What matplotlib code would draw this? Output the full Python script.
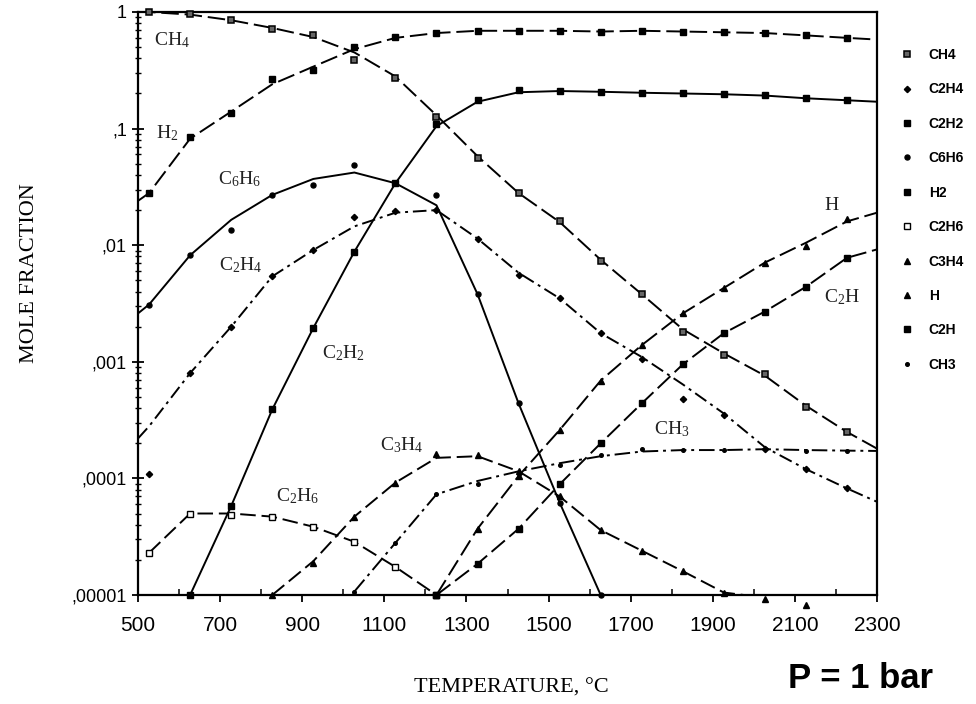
import numpy as np
import matplotlib
matplotlib.use("Agg")
import matplotlib.pyplot as plt
from matplotlib.lines import Line2D
from matplotlib.ticker import FixedLocator, LogLocator, NullFormatter

plt.rcParams['font.family'] = ['Liberation Sans', 'DejaVu Sans']
plt.rcParams['mathtext.fontset'] = 'custom'
plt.rcParams['mathtext.default'] = 'regular'
plt.rcParams['mathtext.rm'] = 'Liberation Serif'

nan = np.nan

# ---- data: marker temperatures (deg C) and mole fractions ----
T_pts = [527, 627, 727, 827, 927, 1027, 1127, 1227, 1327, 1427, 1527,
         1627, 1727, 1827, 1927, 2027, 2127, 2227]

ch4 = [1.0, 0.96, 0.85, 0.71, 0.63, 0.39, 0.27, 0.125, 0.056, 0.028, 0.016,
       0.0073, 0.0038, 0.0018, 0.00115, 0.00079, 0.00041, 0.00025]
c2h4 = [1.1e-4, 8.0e-4, 0.0020, 0.0054, 0.0091, 0.0176, 0.0198, 0.020, 0.0114,
        0.0056, 0.0035, 0.00176, 0.00105, 4.8e-4, 3.5e-4, 1.8e-4, 1.2e-4, 8.2e-5]
c2h2 = [nan, 1.0e-5, 5.8e-5, 3.9e-4, 0.00195, 0.0088, 0.034, 0.11, 0.175,
        0.213, 0.209, 0.205, 0.20, 0.20, 0.197, 0.193, 0.182, 0.175]
c6h6 = [0.0031, 0.0083, 0.0136, 0.027, 0.033, 0.049, 0.034, 0.027, 0.0038,
        4.4e-4, 6.2e-5, 1.0e-5, nan, nan, nan, nan, nan, nan]
h2 = [0.028, 0.084, 0.135, 0.265, 0.32, 0.50, 0.61, 0.66, 0.69, 0.69, 0.69,
      0.68, 0.69, 0.68, 0.67, 0.66, 0.63, 0.60]
c2h6 = [2.3e-5, 5.0e-5, 4.9e-5, 4.7e-5, 3.85e-5, 2.86e-5, 1.74e-5, 1.0e-5,
        nan, nan, nan, nan, nan, nan, nan, nan, nan, nan]
c3h4 = [nan, nan, nan, 1.0e-5, 1.88e-5, 4.7e-5, 9.2e-5, 1.63e-4, 1.6e-4,
        1.15e-4, 7.0e-5, 3.6e-5, 2.4e-5, 1.6e-5, 1.05e-5, 9.2e-6, 8.2e-6, nan]
h = [nan, nan, nan, nan, nan, nan, nan, 1.0e-5, 3.7e-5, 1.05e-4, 2.6e-4,
     6.9e-4, 0.00139, 0.0026, 0.0043, 0.0071, 0.0099, 0.0169]
c2h = [nan, nan, nan, nan, nan, nan, nan, 1.0e-5, 1.85e-5, 3.7e-5, 8.9e-5,
       2.0e-4, 4.4e-4, 9.5e-4, 0.00176, 0.0027, 0.0044, 0.0078]
ch3 = [nan, nan, nan, nan, nan, 1.07e-5, 2.8e-5, 7.3e-5, 8.9e-5, 1.1e-4,
       1.3e-4, 1.6e-4, 1.77e-4, 1.75e-4, 1.75e-4, 1.8e-4, 1.73e-4, 1.73e-4]

# ---- fitted curves (plot edges included) ----
T_curve = [500, 527, 627, 727, 827, 927, 1027, 1127, 1227, 1327, 1427, 1527,
           1627, 1727, 1827, 1927, 2027, 2127, 2227, 2300]

ch4_curve = [1.0, 1.0, 0.95, 0.85, 0.73, 0.61, 0.45, 0.28, 0.13, 0.058, 0.028,
             0.0158, 0.0075, 0.0038, 0.0019, 0.00118, 0.00076, 0.00042, 0.00025, 0.00018]
c2h4_curve = [2.2e-4, 2.8e-4, 8.0e-4, 0.0020, 0.0054, 0.0091, 0.0145, 0.019,
              0.020, 0.0114, 0.0058, 0.0035, 0.00176, 0.0011, 6.4e-4, 3.6e-4,
              1.85e-4, 1.2e-4, 8.2e-5, 6.3e-5]
c2h2_curve = [nan, nan, 1.0e-5, 5.8e-5, 3.9e-4, 0.00195, 0.0088, 0.034, 0.105,
              0.17, 0.205, 0.21, 0.207, 0.203, 0.20, 0.197, 0.192, 0.182, 0.175, 0.17]
c6h6_curve = [0.0026, 0.0031, 0.0082, 0.0165, 0.027, 0.037, 0.042, 0.034,
              0.022, 0.0038, 4.4e-4, 6.2e-5, 1.0e-5, nan, nan, nan, nan, nan, nan, nan]
h2_curve = [0.024, 0.028, 0.082, 0.14, 0.24, 0.34, 0.48, 0.60, 0.66, 0.69,
            0.69, 0.69, 0.68, 0.69, 0.68, 0.67, 0.66, 0.63, 0.60, 0.58]
c2h6_curve = [nan, 2.3e-5, 5.0e-5, 5.0e-5, 4.7e-5, 3.85e-5, 2.86e-5, 1.74e-5,
              1.0e-5, nan, nan, nan, nan, nan, nan, nan, nan, nan, nan, nan]
c3h4_curve = [nan, nan, nan, nan, 1.0e-5, 1.95e-5, 4.7e-5, 9.2e-5, 1.5e-4,
              1.55e-4, 1.15e-4, 7.0e-5, 3.6e-5, 2.4e-5, 1.6e-5, 1.05e-5, 9.5e-6,
              nan, nan, nan]
h_curve = [nan, nan, nan, nan, nan, nan, nan, nan, 1.0e-5, 3.7e-5, 1.05e-4,
           2.6e-4, 6.9e-4, 0.00139, 0.0026, 0.0043, 0.0071, 0.0105, 0.016, 0.019]
c2h_curve = [nan, nan, nan, nan, nan, nan, nan, nan, 1.0e-5, 1.85e-5, 3.7e-5,
             8.9e-5, 2.0e-4, 4.4e-4, 9.5e-4, 0.00176, 0.0027, 0.0044, 0.0078, 0.0092]
ch3_curve = [nan, nan, nan, nan, nan, nan, 1.07e-5, 2.8e-5, 7.3e-5, 9.5e-5,
             1.15e-4, 1.35e-4, 1.55e-4, 1.7e-4, 1.75e-4, 1.75e-4, 1.78e-4,
             1.75e-4, 1.73e-4, 1.72e-4]

species = ["CH4", "C2H4", "C2H2", "C6H6", "H2", "C2H6", "C3H4", "H", "C2H", "CH3"]
x_ticks = [500, 700, 900, 1100, 1300, 1500, 1700, 1900, 2100, 2300]
y_ticks = [1e-5, 1e-4, 1e-3, 1e-2, 1e-1, 1]
y_ticklabels = [",00001", ",0001", ",001", ",01", ",1", "1"]

label_text = [r"CH$_4$", r"H$_2$", r"C$_6$H$_6$", r"C$_2$H$_4$", r"C$_2$H$_2$",
              r"C$_2$H$_6$", r"C$_3$H$_4$", "H", r"C$_2$H", r"CH$_3$"]
label_T = [583, 571, 747, 749, 1001, 888, 1142, 2190, 2215, 1799]
label_y = [0.574, 0.091, 0.0366, 0.0067, 0.00118, 7.0e-5, 1.93e-4, 0.0218, 0.0036, 2.63e-4]

# ---- styling ----
series = [
    (ch4, ch4_curve, dict(marker='s', ms=4.5, mfc='#666666', mec='black', mew=1.1), (9, 3)),
    (c2h4, c2h4_curve, dict(marker='D', ms=3.2, mfc='black', mec='black'), (7, 2.5, 1.5, 2.5)),
    (c2h2, c2h2_curve, dict(marker='s', ms=4.5, mfc='black', mec='black'), None),
    (c6h6, c6h6_curve, dict(marker='o', ms=3.6, mfc='black', mec='black'), None),
    (h2, h2_curve, dict(marker='s', ms=4.8, mfc='black', mec='black'), (9, 3)),
    (c2h6, c2h6_curve, dict(marker='s', ms=4.2, mfc='white', mec='black', mew=1.0), (8, 3)),
    (c3h4, c3h4_curve, dict(marker='^', ms=4.6, mfc='black', mec='black'), (8, 3)),
    (h, h_curve, dict(marker='^', ms=4.2, mfc='black', mec='black'), (9, 3)),
    (c2h, c2h_curve, dict(marker='s', ms=4.6, mfc='black', mec='black'), (9, 3)),
    (ch3, ch3_curve, dict(marker='o', ms=2.6, mfc='black', mec='black'), (8, 2.5, 1.5, 2.5)),
]

fig = plt.figure(figsize=(9.76, 7.04), dpi=100)
ax = fig.add_axes([138 / 976, 1 - 595 / 704, (877 - 138) / 976, (595 - 12) / 704])

for vals, curve, mk, dash in series:
    ln, = ax.plot(T_curve, curve, color='black', lw=1.4, zorder=2)
    if dash is not None:
        ln.set_dashes(dash)
    ax.plot(T_pts, vals, linestyle='none', zorder=3, clip_on=False, **mk)

ax.set_yscale('log')
ax.set_xlim(500, 2300)
ax.set_ylim(1e-5, 1)

ax.xaxis.set_major_locator(FixedLocator(x_ticks))
ax.set_xticklabels([str(v) for v in x_ticks])
ax.xaxis.set_minor_locator(FixedLocator([600, 800, 1000, 1200, 1400, 1600, 1800, 2000, 2200]))
ax.yaxis.set_major_locator(FixedLocator(y_ticks))
ax.set_yticklabels(y_ticklabels)
ax.yaxis.set_minor_locator(LogLocator(base=10, subs=np.arange(2, 10)))
ax.yaxis.set_minor_formatter(NullFormatter())

ax.tick_params(axis='x', which='major', direction='out', length=5, width=1.3,
               labelsize=15, pad=10)
ax.tick_params(axis='x', which='minor', direction='in', length=4, width=1.1)
ax.tick_params(axis='y', which='major', direction='inout', length=8, width=1.3,
               labelsize=13, pad=4)
ax.tick_params(axis='y', which='minor', direction='inout', length=4, width=1.0)
for s in ax.spines.values():
    s.set_linewidth(1.6)

for txt, tx, ty in zip(label_text, label_T, label_y):
    ax.text(tx, ty, txt, family='Liberation Serif', fontsize=14,
            ha='center', va='center', color='#222222')

fig.text(30 / 976, 1 - 273 / 704, "MOLE FRACTION", family='Liberation Serif',
         fontsize=16, rotation=90, ha='center', va='center')
fig.text(511 / 976, 1 - 688 / 704, "TEMPERATURE, \u00b0C", family='Liberation Serif',
         fontsize=16, ha='center', va='center')
fig.text(861 / 976, 1 - 688 / 704, "P = 1 bar", fontsize=25, fontweight='bold',
         ha='center', va='baseline')

styles = [s[2] for s in series]
handles = [Line2D([], [], linestyle='none', color='black', **st) for st in styles]
fig.legend(handles, species, loc='upper left', bbox_to_anchor=(901 / 976, 1 - 48 / 704),
           frameon=False, handlelength=0.8, handletextpad=1.2,
           labelspacing=1.47, borderaxespad=0, borderpad=0,
           prop={'family': 'Liberation Sans', 'weight': 'bold', 'size': 10})

fig.savefig("out.png", dpi=100)
